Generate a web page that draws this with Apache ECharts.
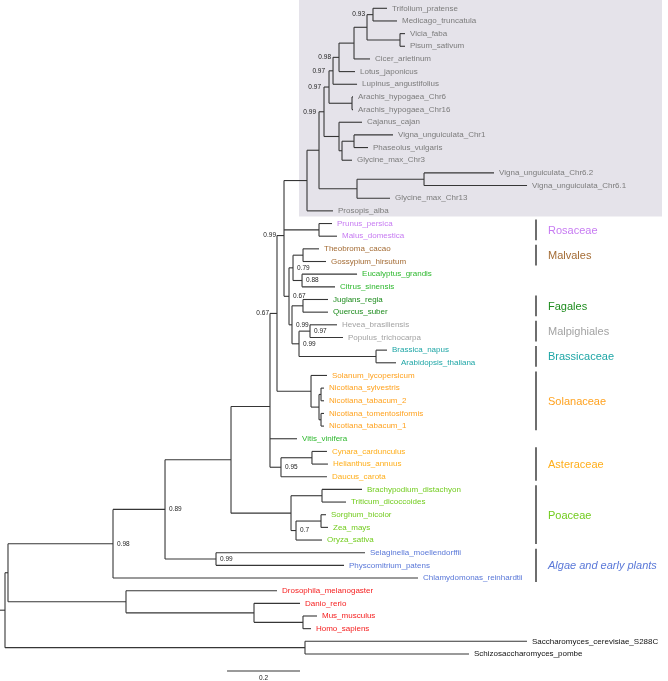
<!DOCTYPE html>
<html><head><meta charset="utf-8">
<script src="https://cdn.jsdelivr.net/npm/echarts@6/dist/echarts.min.js"></script>
<style>html,body{margin:0;padding:0;background:#fff}#c{width:668px;height:681px}</style>
</head><body><div id="c"></div>
<script>
// ---------- DATA (Newick clades, branch lengths in substitutions/site, support values) ----------
const legumes = "(((((((((Trifolium_pratense:0.0384,Medicago_truncatula:0.0658)0.93:0.0164,(Vicia_faba:0.0137,Pisum_sativum:0.0137):0.0904):0.0356,Cicer_arietinum:0.0438):0.0411,Lotus_japonicus:0.0438)0.98:0.0164,Lupinus_angustifolius:0.0658)0.97:0.0110,(Arachis_hypogaea_Chr6:0.0027,Arachis_hypogaea_Chr16:0.0027):0.0630)0.97:0.0137,(Cajanus_cajan:0.0630,((Vigna_unguiculata_Chr1:0.1068,Phaseolus_vulgaris:0.0384):0.0329,Glycine_max_Chr3:0.0274):0.0082):0.0411)0.99:0.0137,((Vigna_unguiculata_Chr6.2:0.1918,Vigna_unguiculata_Chr6.1:0.2822):0.1836,Glycine_max_Chr13:0.0904):0.1041):0.0329,Prosopis_alba:0.0712):0.0630";
const rosaceae = "(Prunus_persica:0.0356,Malus_domestica:0.0493):0.0959";
const otherRosids = "(((Theobroma_cacao:0.0438,Gossypium_hirsutum:0.0630):0.0274,(Eucalyptus_grandis:0.1507,Citrus_sinensis:0.0904)0.88:0.0247)0.79:0.0110,((Juglans_regia:0.0685,Quercus_suber:0.0685):0.0301,((Hevea_brasiliensis:0.0740,Populus_trichocarpa:0.0904)0.97:0.0301,(Brassica_napus:0.0301,Arabidopsis_thaliana:0.0548):0.2110)0.99:0.0192)0.99:0.0082)0.67:0.0137";
const solanaceae = "(Solanum_lycopersicum:0.0438,((Nicotiana_sylvestris:0.0082,Nicotiana_tabacum_2:0.0082):0.0055,(Nicotiana_tomentosiformis:0.0082,Nicotiana_tabacum_1:0.0082):0.0055):0.0219):0.0932";
const asteraceae = "((Cynara_cardunculus:0.0411,Helianthus_annuus:0.0438):0.0849,Daucus_carota:0.1260)0.95:0.0301";
const vitis = "Vitis_vinifera:0.0740";
const poaceae = "((Brachypodium_distachyon:0.1096,Triticum_dicoccoides:0.0658):0.0849,((Sorghum_bicolor:0.0137,Zea_mays:0.0192):0.0685,Oryza_sativa:0.0712)0.7:0.0137):0.1644";
const earlyPlants = "(Selaginella_moellendorffii:0.4082,Physcomitrium_patens:0.3507)0.99:0.1397";
const algae = "Chlamydomonas_reinhardtii:0.8356";
const animals = "(Drosophila_melanogaster:0.4137,(Danio_rerio:0.1260,(Mus_musculus:0.0384,Homo_sapiens:0.0219):0.1342):0.3507):0.3233";
const fungi = "(Saccharomyces_cerevisiae_S288C:0.6082,Schizosaccharomyces_pombe:0.4493):0.8219";

const rosids = "(" + legumes + "," + rosaceae + "," + otherRosids + ")0.99:0.0192";
const core = "(" + rosids + "," + solanaceae + ")0.67:0.0192";
const eudicots = "(" + core + "," + vitis + "," + asteraceae + "):0.1068";
const angio = "(" + eudicots + "," + poaceae + "):0.1808";
const landPlants = "(" + angio + "," + earlyPlants + ")0.89:0.1425";
const plants = "(" + landPlants + "," + algae + ")0.98:0.2877";
const nonFungi = "(" + plants + "," + animals + "):0.0082";
const treeNewick = "(" + nonFungi + "," + fungi + "):0.0137;";

// Taxonomic groups: [label, first leaf, last leaf]
const groups = [
  ["Legumes", "Trifolium_pratense", "Prosopis_alba"],
  ["Rosaceae", "Prunus_persica", "Malus_domestica"],
  ["Malvales", "Theobroma_cacao", "Gossypium_hirsutum"],
  ["", "Eucalyptus_grandis", "Citrus_sinensis"],
  ["Fagales", "Juglans_regia", "Quercus_suber"],
  ["Malpighiales", "Hevea_brasiliensis", "Populus_trichocarpa"],
  ["Brassicaceae", "Brassica_napus", "Arabidopsis_thaliana"],
  ["Solanaceae", "Solanum_lycopersicum", "Nicotiana_tabacum_1"],
  ["", "Vitis_vinifera", "Vitis_vinifera"],
  ["Asteraceae", "Cynara_cardunculus", "Daucus_carota"],
  ["Poaceae", "Brachypodium_distachyon", "Oryza_sativa"],
  ["Algae and early plants", "Selaginella_moellendorffii", "Chlamydomonas_reinhardtii"],
  ["", "Drosophila_melanogaster", "Homo_sapiens"],
  ["", "Saccharomyces_cerevisiae_S288C", "Schizosaccharomyces_pombe"]
];
const scaleBarLength = 0.2;
const scaleBarLabel = "0.2";

// ---------- STYLE ----------
const groupColors = ["#7c7c7c","#c77bf2","#a46c35","#2db82d","#1e8c1e","#a3a3a3","#1fa6a6","#ffa21f","#2db82d","#ffae1a","#72cc1e","#5a78d8","#f51d1d","#111111"];
const supportLeft = ["Trifolium_pratense|Medicago_truncatula","Trifolium_pratense|Lotus_japonicus","Trifolium_pratense|Lupinus_angustifolius","Trifolium_pratense|Arachis_hypogaea_Chr16","Trifolium_pratense|Glycine_max_Chr3","Trifolium_pratense|Arabidopsis_thaliana","Trifolium_pratense|Nicotiana_tabacum_1"];
const FONT = '"Liberation Sans", Arial, Helvetica, sans-serif';
const LINE = '#363636';

// ---------- PARSE + LAYOUT ----------
function parseNewick(s){
  let i=0;
  function node(){
    const n={children:[]};
    if(s[i]==='('){ i++; n.children.push(node()); while(s[i]===','){i++; n.children.push(node());} i++; }
    let name=''; while(i<s.length && !',():;'.includes(s[i])) name+=s[i++];
    n.name=name;
    n.len=0;
    if(s[i]===':'){ i++; let b=''; while(i<s.length && !',();'.includes(s[i])) b+=s[i++]; n.len=parseFloat(b); }
    return n;
  }
  return node();
}
const root = parseNewick(treeNewick);
const leaves=[];
function layout(n, px){
  n.x = px + n.len;
  if(!n.children.length){ n.y = leaves.length; leaves.push(n); n.first=n.name; n.last=n.name; }
  else {
    n.children.forEach(c=>layout(c,n.x));
    n.y = n.children.reduce((a,c)=>a+c.y,0)/n.children.length;
    n.first = n.children[0].first; n.last = n.children[n.children.length-1].last;
  }
}
layout(root, 0);
const segs=[], supports=[];
function collect(n, px){
  segs.push([px, n.y, n.x, n.y]);
  if(n.children.length){
    const ys=n.children.map(c=>c.y);
    segs.push([n.x, Math.min(...ys), n.x, Math.max(...ys)]);
    if(n.name) supports.push([n.x, n.y, n.name, supportLeft.includes(n.first+'|'+n.last)?1:0]);
    n.children.forEach(c=>collect(c,n.x));
  }
}
collect(root, 0);
const leafIndex = {}; leaves.forEach((l,i)=>leafIndex[l.name]=i);
const leafColor = leaves.map(()=> '#111');
groups.forEach((g,gi)=>{ for(let k=leafIndex[g[1]]; k<=leafIndex[g[2]]; k++) leafColor[k]=groupColors[gi]; });
const barGroups = groups.map((g,gi)=>({name:g[0], a:leafIndex[g[1]], b:leafIndex[g[2]], color:groupColors[gi]})).filter(g=>g.name && g.name!=='Legumes');
const legumeGroup = {a:leafIndex[groups[0][1]], b:leafIndex[groups[0][2]]};

// ---------- CHART ----------
const chart = echarts.init(document.getElementById('c'), null, {renderer:'canvas'});
const PX_PER_UNIT = 365;
chart.setOption({
  animation:false,
  grid:{left:0,right:0,top:8.3,bottom:1.7},
  xAxis:{type:'value',min:0,max:668/PX_PER_UNIT,show:false},
  yAxis:{type:'value',min:0,max:53,inverse:true,show:false},
  graphic:[{type:'text',left:573,top:18,style:{text:'Legumes',font:'italic 15px '+FONT,fill:'#6a6a6a'}}],
  series:[
    { // legume shaded box
      type:'custom', coordinateSystem:'cartesian2d', clip:false, z:1, silent:true,
      data:[[legumeGroup.a, legumeGroup.b]],
      renderItem:(p,api)=>{
        const top = api.coord([0, api.value(0)-0.66])[1];
        const bot = api.coord([0, api.value(1)+0.45])[1];
        return {type:'rect', shape:{x:299,y:Math.max(0,top),width:363,height:bot-Math.max(0,top)}, style:{fill:'#e5e3ea'}};
      }
    },
    { // branches
      type:'custom', coordinateSystem:'cartesian2d', clip:false, z:2, silent:true,
      data:segs, encode:{x:[0,2],y:[1,3]},
      renderItem:(p,api)=>{
        const a=api.coord([api.value(0),api.value(1)]), b=api.coord([api.value(2),api.value(3)]);
        return {type:'line', shape:{x1:a[0],y1:a[1],x2:b[0],y2:b[1]}, style:{stroke:LINE,lineWidth:1.1}};
      }
    },
    { // leaf labels
      type:'custom', coordinateSystem:'cartesian2d', clip:false, z:3, silent:true,
      data:leaves.map(l=>[l.x,l.y]),
      renderItem:(p,api)=>{
        const c=api.coord([api.value(0),api.value(1)]);
        return {type:'text', x:c[0]+5, y:c[1], style:{text:leaves[p.dataIndex].name, fill:leafColor[p.dataIndex], font:'8px '+FONT, align:'left', verticalAlign:'middle'}};
      }
    },
    { // support values
      type:'custom', coordinateSystem:'cartesian2d', clip:false, z:3, silent:true,
      data:supports.map(s=>[s[0],s[1]]),
      renderItem:(p,api)=>{
        const c=api.coord([api.value(0),api.value(1)]);
        const left = supports[p.dataIndex][3]===1;
        return {type:'text', x:c[0]+(left?-8:4), y:c[1], style:{text:supports[p.dataIndex][2], fill:'#222', font:'6.5px '+FONT, align:left?'right':'left', verticalAlign:'middle'}};
      }
    },
    { // group bars + labels
      type:'custom', coordinateSystem:'cartesian2d', clip:false, z:3, silent:true,
      data:barGroups.map(g=>[g.a,g.b]),
      renderItem:(p,api)=>{
        const g=barGroups[p.dataIndex];
        const y1=api.coord([0,api.value(0)-0.32])[1], y2=api.coord([0,api.value(1)+0.32])[1];
        const ym=api.coord([0,(api.value(0)+api.value(1))/2])[1];
        const italic = g.name.indexOf(' ')>=0;
        return {type:'group', children:[
          {type:'line', shape:{x1:536,y1:y1,x2:536,y2:y2}, style:{stroke:'#4a4a4a',lineWidth:1.6}},
          {type:'text', x:548, y:ym+1, style:{text:g.name, fill:g.color, font:(italic?'italic ':'')+'11px '+FONT, align:'left', verticalAlign:'middle'}}
        ]};
      }
    },
    { // scale bar
      type:'custom', coordinateSystem:'cartesian2d', clip:false, z:3, silent:true,
      data:[[0.622, 52.35]],
      renderItem:(p,api)=>{
        const a=api.coord([api.value(0),api.value(1)]), b=api.coord([api.value(0)+scaleBarLength,api.value(1)]);
        return {type:'group', children:[
          {type:'line', shape:{x1:a[0],y1:a[1],x2:b[0],y2:b[1]}, style:{stroke:LINE,lineWidth:1.1}},
          {type:'text', x:(a[0]+b[0])/2, y:a[1]+7, style:{text:scaleBarLabel, fill:'#222', font:'6.5px '+FONT, align:'center', verticalAlign:'middle'}}
        ]};
      }
    }
  ]
});
</script>
</body></html>
